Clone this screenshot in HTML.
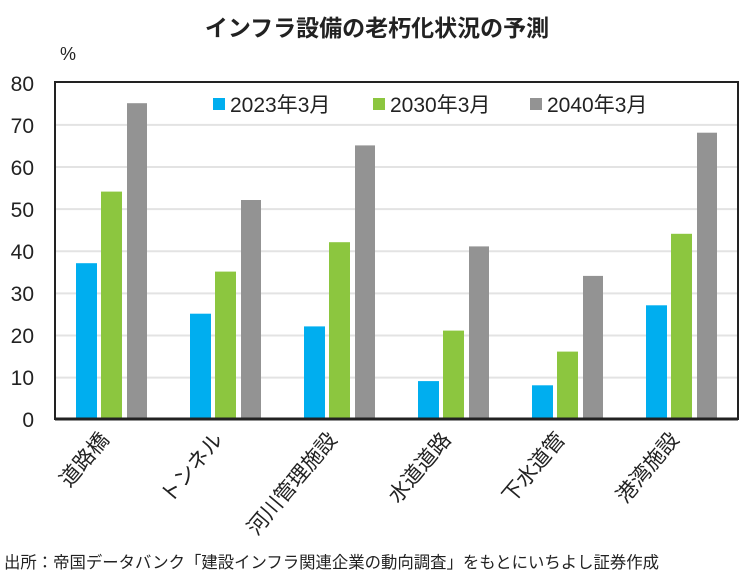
<!DOCTYPE html>
<html><head><meta charset="utf-8"><style>
body{margin:0;background:#fff;}
svg text{font-family:"Liberation Sans","Noto Sans CJK JP",sans-serif;fill:#222;}
</style></head><body>
<svg width="750" height="574" viewBox="0 0 750 574" xmlns="http://www.w3.org/2000/svg">
<text x="377" y="36" text-anchor="middle" font-size="23" font-weight="bold" style="font-family:'Noto Sans CJK JP',sans-serif">インフラ設備の老朽化状況の予測</text>
<text x="60" y="60" font-size="18">%</text>
<g stroke="#e3e3e3" stroke-width="2">
<line x1="56" x2="737" y1="124.9" y2="124.9"/><line x1="56" x2="737" y1="167" y2="167"/>
<line x1="56" x2="737" y1="209.1" y2="209.1"/><line x1="56" x2="737" y1="251.3" y2="251.3"/>
<line x1="56" x2="737" y1="293.4" y2="293.4"/><line x1="56" x2="737" y1="335.5" y2="335.5"/>
<line x1="56" x2="737" y1="377.6" y2="377.6"/>
</g>
<g font-size="21" text-anchor="end">
<text x="34" y="427">0</text><text x="34" y="385">10</text><text x="34" y="343">20</text>
<text x="34" y="301">30</text><text x="34" y="259">40</text><text x="34" y="217">50</text>
<text x="34" y="175">60</text><text x="34" y="133">70</text><text x="34" y="91">80</text>
</g>
<g id="bars">
<rect x="76" y="263.2" width="21" height="155.8" fill="#00aeef"/><rect x="101" y="191.6" width="21" height="227.4" fill="#8cc63f"/><rect x="127" y="103.2" width="20" height="315.8" fill="#939393"/>
<rect x="190" y="313.7" width="21" height="105.3" fill="#00aeef"/><rect x="215" y="271.6" width="21" height="147.4" fill="#8cc63f"/><rect x="241" y="200" width="20" height="219" fill="#939393"/>
<rect x="304" y="326.4" width="21" height="92.6" fill="#00aeef"/><rect x="329" y="242.2" width="21" height="176.8" fill="#8cc63f"/><rect x="355" y="145.4" width="20" height="273.6" fill="#939393"/>
<rect x="418" y="381.1" width="21" height="37.9" fill="#00aeef"/><rect x="443" y="330.6" width="21" height="88.4" fill="#8cc63f"/><rect x="469" y="246.4" width="20" height="172.6" fill="#939393"/>
<rect x="532" y="385.3" width="21" height="33.7" fill="#00aeef"/><rect x="557" y="351.6" width="21" height="67.4" fill="#8cc63f"/><rect x="583" y="275.9" width="20" height="143.1" fill="#939393"/>
<rect x="646" y="305.3" width="21" height="113.7" fill="#00aeef"/><rect x="671" y="233.8" width="21" height="185.2" fill="#8cc63f"/><rect x="697" y="132.7" width="20" height="286.3" fill="#939393"/>
</g>
<rect x="55" y="82" width="683" height="337" fill="none" stroke="#222" stroke-width="2"/>
<line x1="55" x2="738" y1="419" y2="419" stroke="#222" stroke-width="3"/>
<rect x="213" y="98" width="12" height="12" fill="#00aeef"/>
<text x="230" y="112" font-size="21">2023年3月</text>
<rect x="373" y="98" width="12" height="12" fill="#8cc63f"/>
<text x="390" y="112" font-size="21">2030年3月</text>
<rect x="530" y="98" width="12" height="12" fill="#939393"/>
<text x="547" y="112" font-size="21">2040年3月</text>
<g font-size="21" text-anchor="end">
<text transform="translate(110,440) rotate(-50)">道路橋</text>
<text transform="translate(224,440) rotate(-50)">トンネル</text>
<text transform="translate(338,440) rotate(-50)">河川管理施設</text>
<text transform="translate(452,440) rotate(-50)">水道道路</text>
<text transform="translate(566,440) rotate(-50)">下水道管</text>
<text transform="translate(680,440) rotate(-50)">港湾施設</text>
</g>
<text x="4" y="568" font-size="16.5" textLength="655" lengthAdjust="spacingAndGlyphs">出所：帝国データバンク「建設インフラ関連企業の動向調査」をもとにいちよし証券作成</text>
</svg>
</body></html>
